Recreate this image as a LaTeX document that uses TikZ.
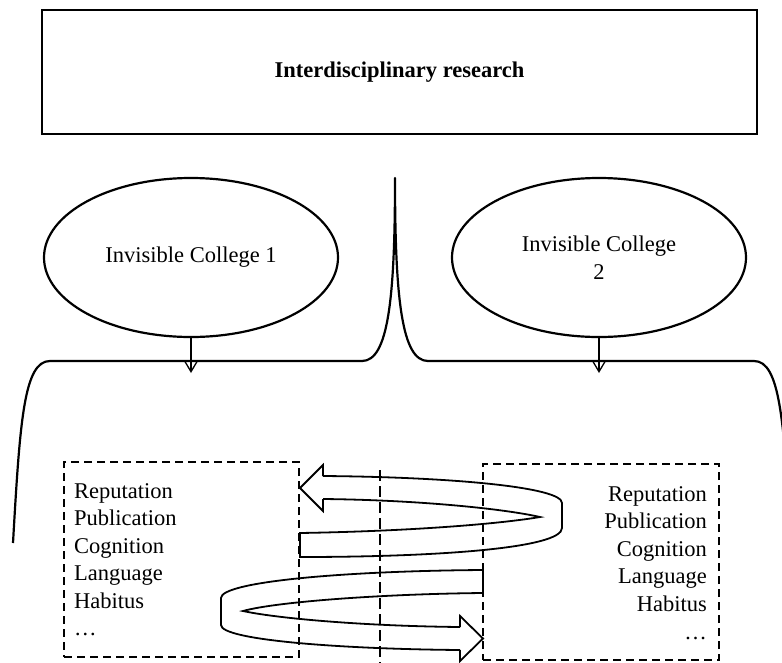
\documentclass[tikz,border=0pt]{standalone}
\usepackage{fontspec}
\setmainfont{Liberation Serif}
\usetikzlibrary{shapes.geometric,arrows.meta}
\begin{document}
\begin{tikzpicture}[x=1pt,y=-1pt,
  txt/.style={font=\fontsize{22.5}{28}\selectfont, inner sep=0pt},
  titlebox/.style={draw, line width=2.6pt, minimum width=715pt, minimum height=124pt, txt},
  college/.style={ellipse, draw, line width=2.2pt, minimum width=294pt, minimum height=159pt, align=center, txt},
  feed/.style={line width=1.3pt, -{Straight Barb[length=11pt,width=13pt,line width=1.3pt]}},
  bracket/.style={line width=2.2pt, line join=round},
  dashbox/.style={draw, line width=2.2pt, dash pattern=on 8pt off 5pt, inner sep=0pt},
  divider/.style={line width=2.8pt, dash pattern=on 11pt off 5pt},
  ribbon/.style={line width=1.8pt, line join=miter},
]
\useasboundingbox (0,0) rectangle (782,662);

% headline box
\node[titlebox] (top) at (399.5,72) {\bfseries Interdisciplinary research};

% the two invisible colleges
\node[college] (ic1) at (191,257.5) {Invisible College 1};
\node[college] (ic2) at (599,257.5) {Invisible College\\2};

% brace joining both colleges into the headline
\draw[bracket] (13,543) .. controls (20,420) and (24,361) .. (50,361)
  -- (362,361) .. controls (388,361) and (395,300) .. (395,178)
  .. controls (395,300) and (402,361) .. (428,361)
  -- (754,361) .. controls (780,361) and (784,420) .. (791,543);

% short arrows from each college
\coordinate (f1) at (191,373);
\coordinate (f2) at (599,373);
\draw[feed] (ic1.south) -- (f1);
\draw[feed] (ic2.south) -- (f2);

% dashed frames with the dimensions
\node[dashbox, minimum width=235pt, minimum height=195pt] (boxL) at (181.5,559.5) {};
\node[dashbox, minimum width=236pt, minimum height=196pt] (boxR) at (601,562) {};
\coordinate (divtop) at (380,470);
\coordinate (divbot) at (380,664);
\draw[divider] (divtop) -- (divbot);

\foreach \w [count=\i] in {Reputation,Publication,Cognition,Language,Habitus,…} {
  \node[txt, anchor=base west] (L\i) at (74,{498+27.5*(\i-1)}) {\w};
  \node[txt, anchor=base east] (R\i) at (707,{501+27.6*(\i-1)}) {\w};
}

% upper ribbon: from the right frame back into the left one
\draw[ribbon] (323,476) -- (323,465) -- (300,488) -- (323,511) -- (323,499);
\draw[ribbon] (323,476) .. controls (450,477) and (562,487) .. (562,503)
  -- (562,528) .. controls (562,548) and (440,557) .. (300,557)
  -- (300,533) .. controls (420,531) and (505,523) .. (540,517)
  .. controls (505,509) and (420,500) .. (323,499);

% lower ribbon: from the left frame over into the right one
\draw[ribbon] (460,627) -- (460,616) -- (483,638.5) -- (460,661) -- (460,650);
\draw[ribbon] (460,650) .. controls (340,649) and (221,640) .. (221,625)
  -- (221,598) .. controls (221,582) and (340,571) .. (483,570)
  -- (483,593) .. controls (380,594) and (275,602) .. (243,611)
  .. controls (275,618) and (360,626) .. (460,627);
\end{tikzpicture}
\end{document}
